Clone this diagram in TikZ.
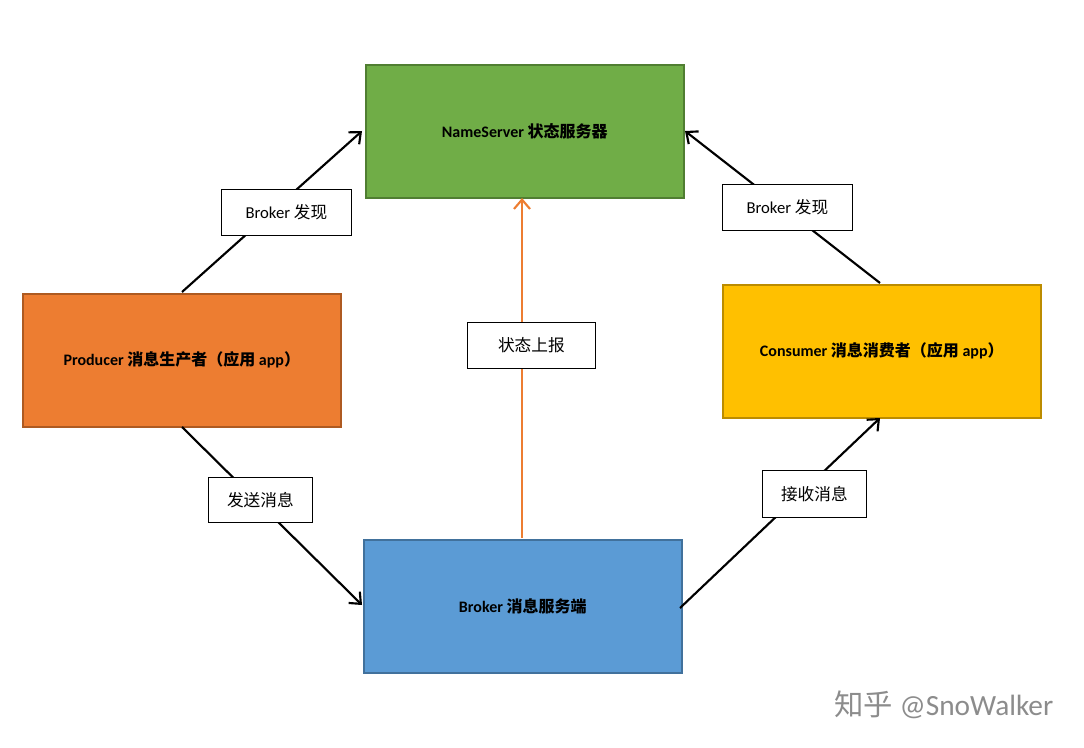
\documentclass[tikz,border=0pt]{standalone}
\usepackage{fontspec}
\setmainfont{Carlito}
\newfontfamily\cjk{Noto Sans CJK SC}
\usetikzlibrary{arrows.meta}
\definecolor{gr}{HTML}{70AD47}\definecolor{grd}{HTML}{507E32}
\definecolor{org}{HTML}{ED7D31}\definecolor{orgd}{HTML}{AE5A21}
\definecolor{yel}{HTML}{FFC000}\definecolor{yeld}{HTML}{BC8C00}
\definecolor{blu}{HTML}{5B9BD5}\definecolor{blud}{HTML}{41719C}
\begin{document}
\begin{tikzpicture}[x=0.75pt,y=-0.75pt,
 box/.style={draw=#1,line width=1.2pt,minimum width=318pt*0.75,minimum height=133pt*0.75,anchor=north west,font=\fontsize{12}{14}\selectfont\bfseries,inner sep=0},
 lab/.style={draw=black,fill=white,line width=0.6pt,anchor=north west,font=\fontsize{12.5}{14}\selectfont,inner sep=0},
 arr/.style={line width=1.6pt,-{Straight Barb[length=7pt,width=12pt]}}]
\useasboundingbox (0,0) rectangle (1084,748);
\node[box=grd,fill=gr] (ns) at (365,64) {NameServer {\cjk 状态服务器}};
\node[box=orgd,fill=org] (pr) at (22,293) {Producer {\cjk 消息生产者（应用} app{\cjk ）}};
\node[box=yeld,fill=yel] (co) at (722,284) {Consumer {\cjk 消息消费者（应用} app{\cjk ）}};
\node[box=blud,fill=blu] (br) at (363,539) {Broker {\cjk 消息服务端}};
\coordinate (p1) at (182,292); \coordinate (n1) at (362,131);
\coordinate (c1) at (880,283); \coordinate (n2) at (685,131);
\coordinate (p2) at (182,427); \coordinate (b1) at (362,605);
\coordinate (b2) at (680,608); \coordinate (c2) at (880,418);
\coordinate (b3) at (522,538); \coordinate (n3) at (522,198);
\draw[arr] (p1) -- (n1);
\draw[arr] (c1) -- (n2);
\draw[arr] (p2) -- (b1);
\draw[arr] (b2) -- (c2);
\draw[arr,draw=org] (b3) -- (n3);
\node[lab,minimum width=97.5pt,minimum height=34.5pt] (l1) at (221,189) {Broker {\cjk 发现}};
\node[lab,minimum width=97.5pt,minimum height=34.5pt] (l2) at (722,184) {Broker {\cjk 发现}};
\node[lab,minimum width=96pt,minimum height=34.5pt] (l3) at (467,322) {\cjk 状态上报};
\node[lab,minimum width=78pt,minimum height=34pt] (l4) at (208,477) {\cjk 发送消息};
\node[lab,minimum width=78pt,minimum height=35pt] (l5) at (762,470) {\cjk 接收消息};
\node[anchor=east,text=black!45,font=\fontsize{22}{24}\selectfont] (wm) at (1058,705) {{\cjk 知乎} @SnoWalker};
\end{tikzpicture}
\end{document}
